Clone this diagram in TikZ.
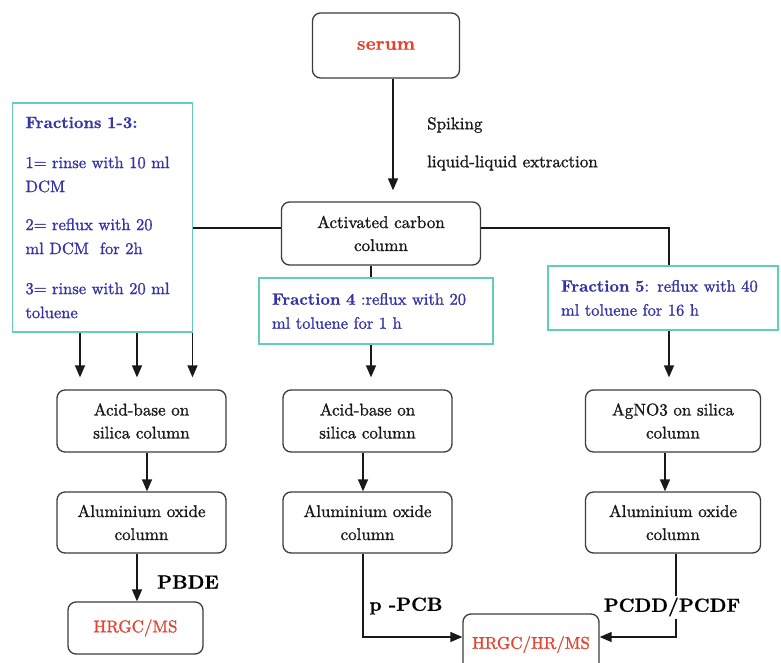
\documentclass[tikz,border=0pt]{standalone}
\usepackage{fontspec}
\setmainfont{lmroman10-regular.otf}[BoldFont=lmroman10-bold.otf, UprightFeatures={FakeBold=1.2}, BoldFeatures={FakeBold=0.6}]
\usetikzlibrary{arrows.meta,calc}
\definecolor{tealb}{RGB}{96,206,186}
\definecolor{bluet}{RGB}{52,52,168}
\definecolor{redt}{RGB}{226,70,50}
\definecolor{grayl}{RGB}{60,60,60}
\definecolor{textk}{RGB}{25,25,25}
\begin{document}
\begin{tikzpicture}[x=1pt,y=-1pt,
 rbox/.style={draw=grayl, line width=1.3pt, rounded corners=8pt, align=center, text=textk,
   font=\fontsize{17}{23}\selectfont, inner sep=0pt, minimum width=169pt, minimum height=62pt},
 fbox/.style={draw=tealb, line width=1.5pt, align=left, text=bluet,
   font=\fontsize{16.5}{24}\selectfont, inner xsep=13pt, inner ysep=0pt},
 arr/.style={line width=1.4pt, draw=black!90, -{Triangle[length=12pt,width=10pt]}},
 ln/.style={line width=1.4pt, draw=black!90},
 lab/.style={font=\fontsize{19}{24}\selectfont\bfseries, inner sep=0pt, text=black},
 txt/.style={font=\fontsize{17}{22}\selectfont, inner sep=0pt, text=textk}
]
\useasboundingbox[fill=white] (0,0) rectangle (781,663);

% boxes
\node[rbox, minimum width=147pt, minimum height=65pt, font=\fontsize{19}{24}\selectfont\bfseries, text=redt] (serum) at (386,45.5) {serum};
\node[rbox, minimum width=199pt, minimum height=63pt] (act) at (381,233.5) {Activated carbon\\column};

\node[fbox, text width=154pt, minimum height=229pt] (f13) at (102.5,217.5)
 {\textbf{Fractions 1-3:}\\[16pt]
  1= rinse with 10 ml\\ DCM\\[14pt]
  2= reflux with 20\\ ml DCM\ \ for 2h\\[16pt]
  3= rinse with 20 ml\\ toluene};
\node[fbox, text width=208pt, minimum height=66pt] (f4) at (376,311)
 {\textbf{Fraction 4} :reflux with 20\\ml toluene for 1 h};
\node[fbox, text width=204pt, minimum height=64pt] (f5) at (663,298)
 {\textbf{Fraction 5}: reflux with 40\\ml toluene for 16 h};

\node[rbox] (ab1) at (141.5,421) {Acid-base on\\silica column};
\node[rbox, minimum height=61pt] (al1) at (141.5,522.5) {Aluminium oxide\\column};
\node[rbox, minimum width=135pt, minimum height=52pt, text=redt] (ms1) at (135.5,628) {HRGC/MS};

\node[rbox] (ab2) at (367.5,421) {Acid-base on\\silica column};
\node[rbox, minimum height=61pt] (al2) at (367.5,522.5) {Aluminium oxide\\column};

\node[rbox, minimum width=175pt] (ab3) at (673,421) {AgNO3 on silica\\column};
\node[rbox, minimum width=175pt, minimum height=61pt] (al3) at (673,522.5) {Aluminium oxide\\column};

\node[rbox, minimum width=136pt, minimum height=61pt, text=redt] (ms2) at (531,644.5) {HRGC/HR/MS};

% helper coordinates
\coordinate (xa) at (393,0);
\coordinate (ya) at (0,228);
\coordinate (xr) at (669,0);
\coordinate (xm) at (371,0);
\coordinate (x1) at (80,0);
\coordinate (x2) at (137,0);
\coordinate (x3) at (192.5,0);
\coordinate (xl) at (147,0);
\coordinate (xb) at (363,0);
\coordinate (xc) at (665,0);
\coordinate (xd) at (676,0);
\coordinate (yb) at (0,637);

% connectors
\draw[arr, shorten >=11pt] (serum.south -| xa) -- (act.north -| xa);
\draw[ln] (act.west |- ya) -- (f13.east |- ya);
\draw[ln] (act.east |- ya) -| (f5.north -| xr);
\draw[ln] (act.south -| xm) -- (f4.north -| xm);

\draw[arr, shorten >=12pt] (f13.south -| x1) -- (ab1.north -| x1);
\draw[arr, shorten >=12pt] (f13.south -| x2) -- (ab1.north -| x2);
\draw[arr, shorten >=12pt] (f13.south -| x3) -- (ab1.north -| x3);
\draw[arr, shorten >=12pt] (f4.south -| xm) -- (ab2.north -| xm);
\draw[arr, shorten >=12pt] (f5.south -| xr) -- (ab3.north -| xr);

\draw[arr] (ab1.south -| xl) -- (al1.north -| xl);
\draw[arr] (al1.south -| x2) -- (ms1.north -| x2);
\draw[arr] (ab2.south -| xb) -- (al2.north -| xb);
\draw[arr] (al2.south -| xb) |- (ms2.west |- yb);
\draw[arr] (ab3.south -| xc) -- (al3.north -| xc);
\draw[arr] (al3.south -| xd) |- (ms2.east |- yb);

% labels
\node[txt, anchor=west] (spk) at (427,125) {Spiking};
\node[txt, anchor=west] (lle) at (427,163) {liquid-liquid extraction};
\node[lab] (pbde) at (188,582) {PBDE};
\node[lab] (pcb) at (406,606) {p -PCB};
\node[lab, fill=white, inner sep=2pt] (pcdd) at (672,607) {PCDD/PCDF};
\end{tikzpicture}
\end{document}
